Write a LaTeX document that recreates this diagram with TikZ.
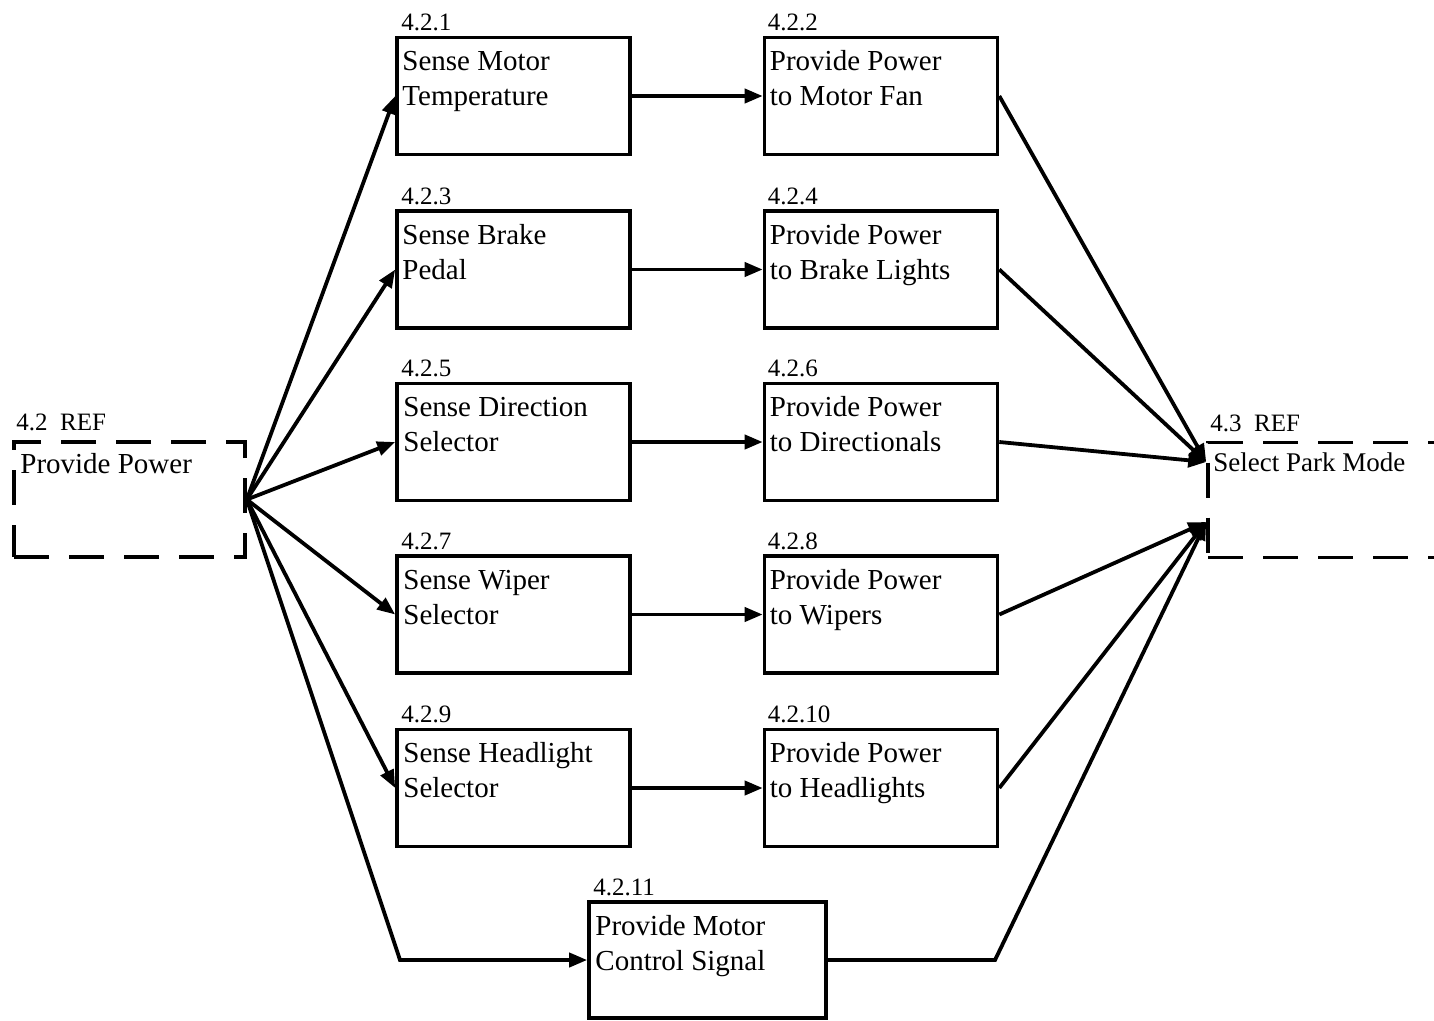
\documentclass[tikz,border=0pt]{standalone}
\usepackage{fontspec}
\setmainfont{Liberation Serif}
\usetikzlibrary{arrows.meta,calc}
\newcommand\twolines[2]{\parbox[t]{225pt}{#1\\#2}}
\begin{document}
\begin{tikzpicture}[x=1pt,y=-1pt,
  fbox/.style={draw, line width=3.6pt, minimum width=233pt, minimum height=117pt, inner sep=0pt},
  refbox/.style={draw, line width=3.6pt, dash pattern=on 35pt off 20pt, minimum height=115pt, inner sep=0pt},
  btext/.style={anchor=base west, inner sep=0pt, font=\fontsize{29}{35}\selectfont},
  num/.style={anchor=base west, inner sep=0pt, font=\fontsize{25}{30}\selectfont},
  flow/.style={line width=3.8pt, line join=miter, -{Triangle[length=18pt,width=14pt]}}
]
\useasboundingbox (0,0) rectangle (1434,1020);

% external reference blocks
\node[refbox, minimum width=231pt] (ref42) at (129.5,499.5) {};
\node[refbox, minimum width=290pt] (ref43) at (1353,500) {};
\node[num] (r42) at ($(ref42.north west)+(4,-10)$) {4.2\ \ REF};
\node[btext] (p42) at ($(ref42.north west)+(8,33)$) {Provide Power};
\node[num] (r43) at ($(ref43.north west)+(4,-9)$) {4.3\ \ REF};
\node[btext, font=\fontsize{27}{34}\selectfont] (p43) at ($(ref43.north west)+(7,31)$) {Select Park Mode};

% sensing functions
\node[fbox] (f1) at (513.5,96) {};
\node[fbox] (f3) at (513.5,269.5) {};
\node[fbox] (f5) at (513.5,442) {};
\node[fbox] (f7) at (513.5,614.5) {};
\node[fbox] (f9) at (513.5,788) {};
% power functions
\node[fbox] (g2) at (881,96) {};
\node[fbox] (g4) at (881,269.5) {};
\node[fbox] (g6) at (881,442) {};
\node[fbox] (g8) at (881,614.5) {};
\node[fbox] (g10) at (881,788) {};
% motor control
\node[fbox, minimum width=237pt, minimum height=116pt] (f11) at (707.5,960) {};

% box texts
\node[btext] (tf1) at ($(f1.north west)+(7,35)$) {\twolines{Sense Motor}{Temperature}};
\node[btext] (tf3) at ($(f3.north west)+(7,35)$) {\twolines{Sense Brake}{Pedal}};
\node[btext] (tf5) at ($(f5.north west)+(8,35)$) {\twolines{Sense Direction}{Selector}};
\node[btext] (tf7) at ($(f7.north west)+(8,35)$) {\twolines{Sense Wiper}{Selector}};
\node[btext] (tf9) at ($(f9.north west)+(8,35)$) {\twolines{Sense Headlight}{Selector}};
\node[btext] (tg2) at ($(g2.north west)+(7,35)$) {\twolines{Provide Power}{to Motor Fan}};
\node[btext] (tg4) at ($(g4.north west)+(7,35)$) {\twolines{Provide Power}{to Brake Lights}};
\node[btext] (tg6) at ($(g6.north west)+(7,35)$) {\twolines{Provide Power}{to Directionals}};
\node[btext] (tg8) at ($(g8.north west)+(7,35)$) {\twolines{Provide Power}{to Wipers}};
\node[btext] (tg10) at ($(g10.north west)+(7,35)$) {\twolines{Provide Power}{to Headlights}};
\node[btext] (tf11) at ($(f11.north west)+(8,35)$) {\twolines{Provide Motor}{Control Signal}};

% numbers
\node[num] (nf1) at ($(f1.north west)+(6,-5)$) {4.2.1};
\node[num] (nf3) at ($(f3.north west)+(6,-5)$) {4.2.3};
\node[num] (nf5) at ($(f5.north west)+(6,-5)$) {4.2.5};
\node[num] (nf7) at ($(f7.north west)+(6,-5)$) {4.2.7};
\node[num] (nf9) at ($(f9.north west)+(6,-5)$) {4.2.9};
\node[num] (ng2) at ($(g2.north west)+(5,-5)$) {4.2.2};
\node[num] (ng4) at ($(g4.north west)+(5,-5)$) {4.2.4};
\node[num] (ng6) at ($(g6.north west)+(5,-5)$) {4.2.6};
\node[num] (ng8) at ($(g8.north west)+(5,-5)$) {4.2.8};
\node[num] (ng10) at ($(g10.north west)+(5,-5)$) {4.2.10};
\node[num] (nf11) at ($(f11.north west)+(6,-5)$) {4.2.11};

% connection points
\coordinate (src) at (ref42.east);
\coordinate (inA) at ($(ref43.west)+(0,-38)$);
\coordinate (inB) at ($(ref43.west)+(0,22)$);
\coordinate (bendL) at (400,960);
\coordinate (bendR) at (995,960);

% fan-out from power supply
\draw[flow] (src) -- (f1.west);
\draw[flow] (src) -- (f3.west);
\draw[flow] (src) -- (f5.west);
\draw[flow] (src) -- (f7.west);
\draw[flow] (src) -- (f9.west);
\draw[flow] (src) -- (bendL) -- (f11.west);

% sense -> power
\draw[flow] (f1.east) -- (g2.west);
\draw[flow] (f3.east) -- (g4.west);
\draw[flow] (f5.east) -- (g6.west);
\draw[flow] (f7.east) -- (g8.west);
\draw[flow] (f9.east) -- (g10.west);

% fan-in to park mode selection
\draw[flow] (g2.east) -- (inA);
\draw[flow] (g4.east) -- (inA);
\draw[flow] (g6.east) -- (inA);
\draw[flow] (g8.east) -- (inB);
\draw[flow] (g10.east) -- (inB);
\draw[flow] (f11.east) -- (bendR) -- (inB);
\end{tikzpicture}
\end{document}
